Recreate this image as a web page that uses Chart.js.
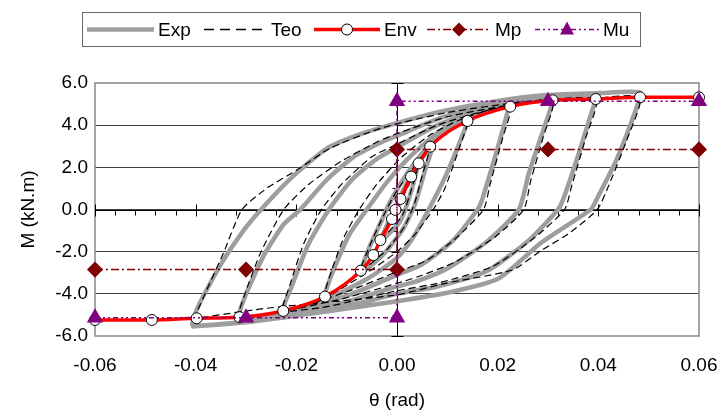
<!DOCTYPE html>
<html>
<head>
<meta charset="utf-8">
<script src="https://cdn.jsdelivr.net/npm/chart.js@4.4.1/dist/chart.umd.min.js"></script>
<style>
  html, body { margin: 0; padding: 0; background: #fff; }
  #wrap { width: 722px; height: 414px; }
</style>
</head>
<body>
<div id="wrap"><canvas id="momentChart" width="722" height="414"></canvas></div>
<script>
// Tick labels
const thetaTicks = [-0.06, -0.04, -0.02, 0, 0.02, 0.04, 0.06];
const momentTicks = [-6, -4, -2, 0, 2, 4, 6];

// Exp: experimental hysteresis loops (theta, M)
const expTheta = [0, 0.002, 0.0042, 0.0025, 0.0005, -0.0033, -0.0015, 0.001, 0.004, 0.007,
  0.0055, 0.0035, 0.001, -0.003, -0.0072, -0.0055, -0.003, -0.0015, 0.002, 0.007, 0.014,
  0.0129, 0.0096, 0.0063, 0.003, 0, -0.006, -0.0143, -0.0125, -0.0095, -0.006, -0.002, 0.003,
  0.009, 0.015, 0.022, 0.0215, 0.0169, 0.016, 0.011, 0.005, 0, -0.01, -0.0226, -0.021, -0.0175,
  -0.0135, -0.009, -0.004, 0, 0.008, 0.018, 0.031, 0.0308, 0.0262, 0.0242, 0.018, 0.01, 0.004,
  0, -0.012, -0.0313, -0.0303, -0.0265, -0.0225, -0.0192, -0.014, -0.0086, -0.003, 0, 0.01,
  0.025, 0.04, 0.0392, 0.0359, 0.0332, 0.032, 0.026, 0.018, 0.008, 0, -0.015, -0.0405, -0.0395,
  -0.035, -0.0305, -0.027, -0.021, -0.0139, -0.007, 0, 0.0086, 0.02, 0.0298, 0.04, 0.0483,
  0.0477, 0.0436, 0.0396, 0.0385, 0.0285, 0.0202, 0.01, 0, -0.013, -0.03, -0.0405];
const expM = [0, 1.2, 2.2, 0.6, -0.6, -1.5, -0.5, 0.8, 2.1, 3.0,
  1.8, 0.2, -1.0, -2.2, -3.0, -1.8, -0.5, 0.3, 1.7, 3.2, 4.3,
  3.45, 1.56, 0, -1.4, -2.3, -3.3, -4.2, -2.8, -1.2, 0, 1.3, 2.6,
  3.8, 4.5, 4.95, 4.2, 0.45, 0, -1.5, -2.6, -3.1, -4.1, -4.85, -3.7, -1.6,
  0, 1.4, 2.4, 2.95, 4.0, 4.85, 5.3, 5.0, 1.72, 0, -1.5, -2.8, -3.4,
  -3.65, -4.5, -5.2, -4.2, -2.2, -0.7, 0, 1.4, 2.5, 3.2, 3.5, 4.45,
  5.15, 5.45, 5.0, 2.5, 0.6, 0, -1.5, -2.9, -3.65, -4.0, -4.85, -5.5, -4.6,
  -2.6, -1.0, 0, 1.5, 2.9, 3.6, 4.1, 4.64, 5.15, 5.43, 5.52, 5.55,
  4.9, 2.35, 0.45, 0, -1.6, -3.27, -3.95, -4.35, -4.8, -5.35, -5.55];

// Teo: theoretical hysteresis loops (theta, M)
const teoTheta = [0, 0.002, 0.0043, 0.0028, 0.001, -0.0033, -0.001, 0.002, 0.0045, 0.0066,
  0.005, 0.0035, 0.0015, -0.002, -0.0072, -0.0052, -0.0025, 0, 0.004, 0.008, 0.014,
  0.0125, 0.0095, 0.0072, 0.0035, 0, -0.006, -0.0143, -0.013, -0.0105, -0.0075, -0.004, 0.001,
  0.007, 0.014, 0.0225, 0.021, 0.0185, 0.0172, 0.012, 0.006, 0, -0.01, -0.0226, -0.0213, -0.0185,
  -0.015, -0.011, -0.005, 0, 0.008, 0.018, 0.0309, 0.029, 0.0265, 0.0252, 0.0195, 0.0115, 0.004,
  0, -0.012, -0.0313, -0.0302, -0.027, -0.0225, -0.0175, -0.011, -0.004, 0, 0.01, 0.025, 0.0395,
  0.0375, 0.0348, 0.0333, 0.027, 0.019, 0.008, 0, -0.015, -0.0398, -0.0385, -0.0345, -0.0308,
  -0.0259, -0.0199, -0.0133, -0.0033, 0.01, 0.025, 0.0395, 0.0483, 0.0455, 0.042, 0.0398,
  0.0342, 0.0288, 0.0229, 0.0096, 0, -0.0265, -0.0398];
const teoM = [0, 1.3, 2.19, 0.9, -0.3, -1.45, -0.3, 1.0, 2.2, 2.98,
  1.6, 0.3, -0.8, -1.9, -2.9, -1.6, -0.2, 0.9, 2.2, 3.3, 4.2,
  3.0, 1.0, 0, -1.2, -2.0, -3.0, -4.13, -2.9, -1.3, 0, 1.2, 2.5,
  3.6, 4.4, 4.88, 3.4, 1.2, 0, -1.3, -2.4, -2.95, -3.9, -4.81, -3.6, -1.6,
  0, 1.2, 2.5, 3.1, 4.0, 4.7, 5.18, 3.4, 1.3, 0, -1.3, -2.5, -3.2,
  -3.5, -4.3, -5.11, -4.0, -2.0, 0, 1.2, 2.3, 3.2, 3.6, 4.4, 5.05, 5.24,
  3.4, 1.2, 0, -1.4, -2.7, -3.5, -3.85, -4.65, -5.16, -4.2, -2.08, 0,
  1.0, 1.87, 2.9, 3.85, 4.6, 5.1, 5.28, 5.32, 3.2, 1.1, 0,
  -1.13, -1.92, -2.87, -3.5, -4.05, -4.7, -5.16];

// Env: envelope curve
const envTheta = [-0.06, -0.0487, -0.0398, -0.0313, -0.0226, -0.0143, -0.0072, -0.0047, -0.0033,
  -0.001, -0.0003, 0.0007, 0.0028, 0.0043, 0.0066, 0.014, 0.0225, 0.0309, 0.0395, 0.0483, 0.06];
const envM = [-5.24, -5.24, -5.16, -5.11, -4.81, -4.13, -2.9, -2.16, -1.45,
  -0.45, -0.02, 0.5, 1.56, 2.19, 2.98, 4.2, 4.88, 5.18, 5.24, 5.32, 5.32];

// Mp: plastic moment
const mpTheta = [-0.06, -0.03, 0, 0, 0.03, 0.06];
const mpM = [-2.85, -2.85, -2.85, 2.85, 2.85, 2.85];

// Mu: ultimate moment
const muTheta = [-0.06, -0.03, 0, 0, 0.03, 0.06];
const muM = [-5.13, -5.13, -5.13, 5.13, 5.13, 5.13];

const pts = (xs, ys) => xs.map((x, i) => ({ x: x, y: ys[i] }));

const FONT = 'Arial, "Liberation Sans", sans-serif';
const GRAY = '#9e9e9e';
const MP_COLOR = '#800000';
const MU_COLOR = '#800080';
const MP_DASH = [8, 3, 2, 3];
const MU_DASH = [5, 3, 2, 3, 2, 3];

// plot frame + axes through the origin, drawn under the data
const centerAxes = {
  id: 'centerAxes',
  beforeDatasetsDraw(chart) {
    const { ctx, chartArea: a, scales: { x, y } } = chart;
    const x0 = Math.round(x.getPixelForValue(0)) + 0.5;
    const y0 = Math.round(y.getPixelForValue(0)) + 0.5;
    ctx.save();
    ctx.strokeStyle = '#888';
    ctx.lineWidth = 1.5;
    ctx.strokeRect(a.left, a.top, a.right - a.left, a.bottom - a.top);

    ctx.strokeStyle = '#000';
    ctx.lineWidth = 1;
    ctx.beginPath();
    ctx.moveTo(a.left, y0); ctx.lineTo(a.right, y0);
    ctx.moveTo(x0, a.top); ctx.lineTo(x0, a.bottom);
    for (let i = -15; i <= 15; i++) {
      const px = Math.round(x.getPixelForValue(i * 0.004)) + 0.5;
      if (i % 5 === 0) { ctx.moveTo(px, y0 - 6); ctx.lineTo(px, y0 + 6); }
      else { ctx.moveTo(px, y0); ctx.lineTo(px, y0 + 5); }
    }
    for (let j = -6; j <= 6; j++) {
      const py = Math.round(y.getPixelForValue(j)) + 0.5;
      if (j % 2 === 0) { ctx.moveTo(x0 - 6, py); ctx.lineTo(x0 + 6, py); }
      else { ctx.moveTo(x0 - 5, py); ctx.lineTo(x0, py); }
    }
    ctx.stroke();
    ctx.restore();
  }
};

// legend box drawn above the plot
const topLegend = {
  id: 'topLegend',
  afterDraw(chart) {
    const ctx = chart.ctx;
    const cy = 29.5;
    ctx.save();
    ctx.strokeStyle = '#666';
    ctx.lineWidth = 1;
    ctx.strokeRect(82.5, 12.5, 558, 34);

    const line = (x1, x2, color, width, dash) => {
      ctx.beginPath();
      ctx.setLineDash(dash);
      ctx.strokeStyle = color;
      ctx.lineWidth = width;
      ctx.moveTo(x1, cy); ctx.lineTo(x2, cy);
      ctx.stroke();
      ctx.setLineDash([]);
    };
    const label = (text, x) => {
      ctx.fillStyle = '#000';
      ctx.font = '19px ' + FONT;
      ctx.textBaseline = 'middle';
      ctx.textAlign = 'left';
      ctx.fillText(text, x, cy + 1);
    };

    line(87, 154, GRAY, 4.5, []);
    label('Exp', 158);

    line(204, 266, '#000', 1.5, [10, 6]);
    label('Teo', 271);

    line(314, 380, '#ff0000', 3.5, []);
    ctx.beginPath();
    ctx.arc(347, cy, 5.5, 0, Math.PI * 2);
    ctx.fillStyle = '#fff'; ctx.fill();
    ctx.strokeStyle = '#000'; ctx.lineWidth = 1; ctx.stroke();
    label('Env', 384);

    line(427, 491, MP_COLOR, 1.5, MP_DASH);
    ctx.beginPath();
    ctx.moveTo(459, cy - 7); ctx.lineTo(466, cy); ctx.lineTo(459, cy + 7); ctx.lineTo(452, cy);
    ctx.closePath();
    ctx.fillStyle = MP_COLOR; ctx.fill();
    label('Mp', 495);

    line(535, 600, MU_COLOR, 1.5, MU_DASH);
    ctx.beginPath();
    ctx.moveTo(567, cy - 8); ctx.lineTo(574, cy + 5); ctx.lineTo(560, cy + 5);
    ctx.closePath();
    ctx.fillStyle = MU_COLOR; ctx.fill();
    label('Mu', 603);
    ctx.restore();
  }
};

const ctx = document.getElementById('momentChart').getContext('2d');
new Chart(ctx, {
  type: 'scatter',
  data: {
    datasets: [
      {
        label: 'Exp', data: pts(expTheta, expM), showLine: true, tension: 0.2,
        borderColor: GRAY, borderWidth: 4.5, pointRadius: 0,
        borderJoinStyle: 'round', borderCapStyle: 'round', order: 5
      },
      {
        label: 'Teo', data: pts(teoTheta, teoM), showLine: true, tension: 0.2,
        borderColor: '#000', borderWidth: 1.2, borderDash: [7, 4], pointRadius: 0, order: 4
      },
      {
        label: 'Env', data: pts(envTheta, envM), showLine: true,
        borderColor: '#ff0000', borderWidth: 3.5, cubicInterpolationMode: 'monotone',
        pointRadius: 5.5, pointBackgroundColor: '#fff', pointBorderColor: '#000',
        pointBorderWidth: 1, clip: false, order: 3
      },
      {
        label: 'Mp', data: pts(mpTheta, mpM), showLine: true,
        borderColor: MP_COLOR, borderWidth: 1.5, borderDash: MP_DASH,
        pointStyle: 'rectRot', pointRadius: 7, pointBackgroundColor: MP_COLOR,
        pointBorderColor: MP_COLOR, clip: false, order: 2
      },
      {
        label: 'Mu', data: pts(muTheta, muM), showLine: true,
        borderColor: MU_COLOR, borderWidth: 1.5, borderDash: MU_DASH,
        pointStyle: 'triangle', pointRadius: 8, pointBackgroundColor: MU_COLOR,
        pointBorderColor: MU_COLOR, clip: false, order: 1
      }
    ]
  },
  options: {
    responsive: false,
    animation: false,
    layout: { padding: { top: 83, right: 23, left: 0, bottom: 0 } },
    plugins: { legend: { display: false }, tooltip: { enabled: false } },
    scales: {
      x: {
        type: 'linear', min: -0.06, max: 0.06,
        afterBuildTicks: s => { s.ticks = thetaTicks.map(v => ({ value: v })); },
        afterFit: s => { s.height = 78; s.paddingLeft = 0; s.paddingRight = 0; },
        grid: { display: false, drawTicks: false },
        border: { display: false },
        ticks: {
          padding: 18, color: '#000', font: { family: FONT, size: 19 },
          callback: v => v.toFixed(2)
        },
        title: {
          display: true, text: 'θ (rad)', color: '#000',
          font: { family: FONT, size: 19 }, padding: { top: 0, bottom: 2 }
        }
      },
      y: {
        type: 'linear', min: -6, max: 6,
        afterBuildTicks: s => { s.ticks = momentTicks.map(v => ({ value: v })); },
        afterFit: s => { s.width = 95; s.paddingTop = 0; s.paddingBottom = 0; },
        grid: {
          drawTicks: false, lineWidth: 1,
          color: c => (Math.abs(c.tick.value) === 6 ? 'rgba(0,0,0,0)' : '#404040')
        },
        border: { display: false },
        ticks: {
          padding: 7, color: '#000', font: { family: FONT, size: 19 },
          callback: v => v.toFixed(1)
        },
        title: {
          display: true, text: 'M (kN.m)', color: '#000',
          font: { family: FONT, size: 19 }, padding: { top: 17, bottom: 0 }
        }
      }
    }
  },
  plugins: [centerAxes, topLegend]
});
</script>
</body>
</html>
